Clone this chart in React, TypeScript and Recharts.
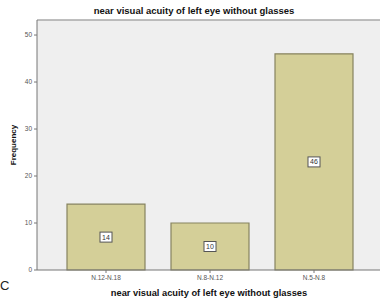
import { Bar, BarChart, CartesianGrid, LabelList, ReferenceLine, XAxis, YAxis } from "recharts";

const categories = ["N.12-N.18", "N.8-N.12", "N.5-N.8"];
const frequencies = [14, 10, 46];
const yTicks = [0, 10, 20, 30, 40, 50];

const data = categories.map((name, i) => ({ name, value: frequencies[i] }));

const titleStyle = { fontFamily: "Arial, 'Liberation Sans', sans-serif", fontWeight: 700 };

function ValueBox(props: any) {
  const { x, y, width, height, value } = props;
  const cx = x + width / 2;
  const cy = y + height / 2;
  return (
    <g>
      <rect x={cx - 6} y={cy - 5} width={12} height={10} fill="#ffffff" stroke="#555" strokeWidth={1} />
      <text x={cx} y={cy + 2.5} textAnchor="middle" fontSize={7} fill="#333" style={{ fontFamily: "Arial, sans-serif" }}>
        {value}
      </text>
    </g>
  );
}

export default function App() {
  return (
    <div style={{ position: "absolute", left: 0, top: 0, width: 380, height: 298, background: "#fff" }}>
      <svg width={380} height={298} style={{ position: "absolute", left: 0, top: 0 }}>
        <text x={194} y={14} textAnchor="middle" fontSize={9.5} fill="#111" style={titleStyle}>
          near visual acuity of left eye without glasses
        </text>
        <text x={209} y={296} textAnchor="middle" fontSize={9.3} fill="#111" style={titleStyle}>
          near visual acuity of left eye without glasses
        </text>
        <text x={14} y={145} textAnchor="middle" fontSize={8} fill="#111" dominantBaseline="middle" transform="rotate(-90 14 145)" style={titleStyle}>
          Frequency
        </text>
        <text x={0} y={290} fontSize={13} fill="#222" style={{ fontFamily: "Arial, sans-serif" }}>
          C
        </text>
      </svg>
      <div style={{ position: "absolute", left: 0, top: 0 }}>
        <BarChart width={382} height={298} data={data} margin={{ top: 20, right: 0, bottom: 0, left: 0 }}>
          <CartesianGrid fill="#efefef" stroke="none" horizontal={false} vertical={false} />
          <ReferenceLine y={53.2} stroke="#a8a8a8" strokeWidth={1.5} ifOverflow="extendDomain" />
          <XAxis
            dataKey="name"
            height={28}
            padding={{ left: 17, right: 16 }}
            axisLine={{ stroke: "#777" }}
            tickLine={{ stroke: "#777" }}
            tickSize={3}
            tick={{ fontSize: 6.5, fill: "#555", fontFamily: "Arial, sans-serif" }}
            interval={0}
          />
          <YAxis
            width={37}
            domain={[0, 53.2]}
            ticks={yTicks}
            axisLine={{ stroke: "#777" }}
            tickLine={{ stroke: "#777" }}
            tickSize={3}
            tick={{ fontSize: 6.5, fill: "#555", fontFamily: "Arial, sans-serif" }}
          />
          <Bar dataKey="value" fill="#d4cf98" stroke="#86835f" strokeWidth={1.2} barSize={78} isAnimationActive={false}>
            <LabelList dataKey="value" content={<ValueBox />} />
          </Bar>
        </BarChart>
      </div>
    </div>
  );
}
